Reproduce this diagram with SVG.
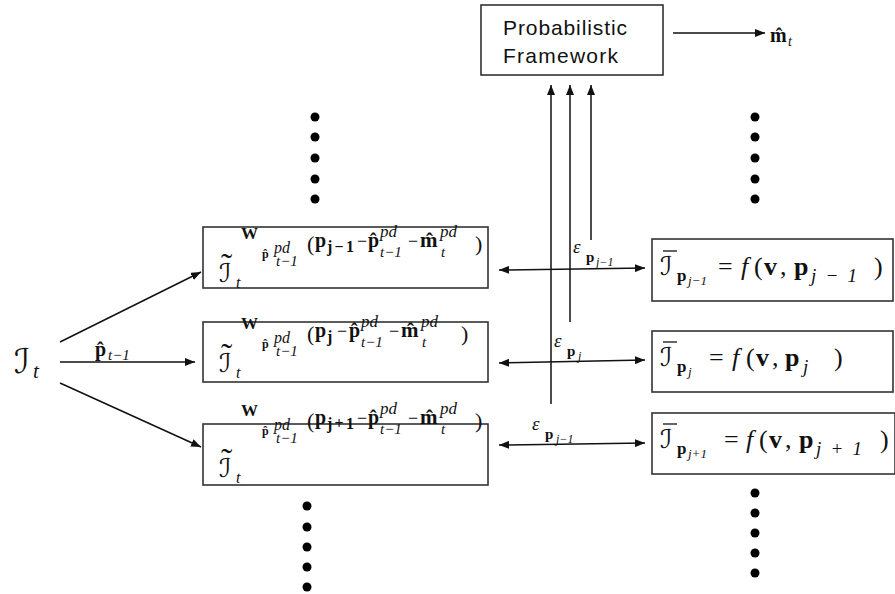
<svg xmlns="http://www.w3.org/2000/svg" width="895" height="594" viewBox="0 0 895 594">
<style>
.box{fill:#fff;stroke:#333;stroke-width:1.6}
.ln{stroke:#111;stroke-width:1.5;fill:none}
.m{font-family:"Liberation Serif","DejaVu Serif",serif;fill:#111}
.i{font-style:italic}
.b{font-weight:bold}
.sc{font-family:"DejaVu Serif","DejaVu Sans",serif;font-style:italic;fill:#111}
.sans{font-family:"Liberation Sans",Arial,sans-serif;fill:#111;font-size:21px}
.dot{fill:#000}
</style>
<defs>
<marker id="ah" viewBox="0 0 10 8" refX="10" refY="4" markerWidth="10" markerHeight="8" markerUnits="userSpaceOnUse" orient="auto-start-reverse">
<path d="M0,0 L10,4 L0,8 z" fill="#111"/>
</marker>
</defs>

<g id="connectors">
<line class="ln" x1="60" y1="342" x2="201" y2="272" marker-end="url(#ah)"/>
<line class="ln" x1="60" y1="362" x2="195" y2="362" marker-end="url(#ah)"/>
<line class="ln" x1="60" y1="383" x2="201" y2="447" marker-end="url(#ah)"/>
<line class="ln" x1="499" y1="270" x2="645" y2="268" marker-start="url(#ah)" marker-end="url(#ah)"/>
<line class="ln" x1="499" y1="363" x2="645" y2="360" marker-start="url(#ah)" marker-end="url(#ah)"/>
<line class="ln" x1="499" y1="445" x2="645" y2="443" marker-start="url(#ah)" marker-end="url(#ah)"/>
<line class="ln" x1="551" y1="404" x2="551" y2="85" marker-end="url(#ah)"/>
<line class="ln" x1="570" y1="322" x2="570" y2="85" marker-end="url(#ah)"/>
<line class="ln" x1="591" y1="240" x2="591" y2="85" marker-end="url(#ah)"/>
<line class="ln" x1="673" y1="33" x2="765" y2="33" marker-end="url(#ah)"/>
<text class="m b" x="95" y="356" font-size="20">p̂</text>
<text class="m i" x="108" y="360" font-size="15">t−1</text>
<text class="m i" x="573" y="253" font-size="19">ε</text>
<text class="m b" x="586" y="262" font-size="15">p</text>
<text class="m i" x="596" y="266" font-size="12">j−1</text>
<text class="m i" x="554" y="347" font-size="19">ε</text>
<text class="m b" x="567" y="356" font-size="15">p</text>
<text class="m i" x="578" y="360" font-size="12">j</text>
<text class="m i" x="532" y="430" font-size="19">ε</text>
<text class="m b" x="545" y="439" font-size="15">p</text>
<text class="m i" x="556" y="443" font-size="12">j−1</text>
</g>

<g id="input">
<text class="sc" x="14" y="373" font-size="34">ℐ</text>
<text class="m i" x="33" y="378" font-size="21">t</text>
</g>

<g id="prob">
<rect class="box" x="481" y="5" width="182" height="70"/>
<text class="sans" x="503" y="35" textLength="124">Probabilistic</text>
<text class="sans" x="503" y="63" textLength="115">Framework</text>
</g>

<g id="output">
<text class="m b" x="770" y="42" font-size="20">m̂</text>
<text class="m i" x="788" y="46" font-size="14">t</text>
</g>

<g id="warp1">
<rect class="box" x="203" y="227" width="285" height="61"/>
<text class="m" x="221" y="277" font-size="34">˜</text>
<text class="sc" x="219" y="282" font-size="26">ℐ</text>
<text class="m i" x="236" y="288" font-size="16">t</text>
<text class="m b" x="241" y="239" font-size="17">W</text>
<text class="m b" x="262" y="258" font-size="12">p̂</text>
<text class="m i" x="274" y="253" font-size="16">pd</text>
<text class="m i" x="276" y="266" font-size="15">t−1</text>
<text class="m" x="307" y="251" font-size="22">(</text>
<text class="m b" x="315" y="247" font-size="20">p</text>
<text class="m b" x="327" y="252" font-size="16" textLength="27">j−1</text>
<text class="m" x="357" y="247" font-size="18">−</text>
<text class="m b" x="368" y="247" font-size="20">p̂</text>
<text class="m i" x="380" y="237" font-size="17">pd</text>
<text class="m i" x="380" y="257" font-size="15">t−1</text>
<text class="m" x="408" y="247" font-size="18">−</text>
<text class="m b" x="420" y="247" font-size="21">m̂</text>
<text class="m i" x="440" y="237" font-size="17">pd</text>
<text class="m i" x="441" y="257" font-size="15">t</text>
<text class="m" x="475" y="251" font-size="22">)</text>
</g>

<g id="warp2">
<rect class="box" x="203" y="322" width="285" height="60"/>
<text class="m" x="221" y="367" font-size="34">˜</text>
<text class="sc" x="219" y="372" font-size="26">ℐ</text>
<text class="m i" x="236" y="378" font-size="16">t</text>
<text class="m b" x="241" y="329" font-size="17">W</text>
<text class="m b" x="262" y="348" font-size="12">p̂</text>
<text class="m i" x="274" y="343" font-size="16">pd</text>
<text class="m i" x="276" y="356" font-size="15">t−1</text>
<text class="m" x="307" y="341" font-size="22">(</text>
<text class="m b" x="315" y="337" font-size="20">p</text>
<text class="m b" x="327" y="342" font-size="16">j</text>
<text class="m" x="337" y="337" font-size="18">−</text>
<text class="m b" x="349" y="337" font-size="20">p̂</text>
<text class="m i" x="361" y="327" font-size="17">pd</text>
<text class="m i" x="361" y="347" font-size="15">t−1</text>
<text class="m" x="389" y="337" font-size="18">−</text>
<text class="m b" x="401" y="337" font-size="21">m̂</text>
<text class="m i" x="421" y="327" font-size="17">pd</text>
<text class="m i" x="422" y="347" font-size="15">t</text>
<text class="m" x="461" y="341" font-size="22">)</text>
</g>

<g id="warp3">
<rect class="box" x="203" y="424" width="285" height="61"/>
<text class="m" x="221" y="472" font-size="34">˜</text>
<text class="sc" x="219" y="477" font-size="26">ℐ</text>
<text class="m i" x="236" y="483" font-size="16">t</text>
<text class="m b" x="241" y="416" font-size="17">W</text>
<text class="m b" x="262" y="435" font-size="12">p̂</text>
<text class="m i" x="274" y="430" font-size="16">pd</text>
<text class="m i" x="276" y="443" font-size="15">t−1</text>
<text class="m" x="307" y="428" font-size="22">(</text>
<text class="m b" x="315" y="424" font-size="20">p</text>
<text class="m b" x="327" y="429" font-size="16" textLength="27">j+1</text>
<text class="m" x="357" y="424" font-size="18">−</text>
<text class="m b" x="368" y="424" font-size="20">p̂</text>
<text class="m i" x="380" y="414" font-size="17">pd</text>
<text class="m i" x="380" y="434" font-size="15">t−1</text>
<text class="m" x="408" y="424" font-size="18">−</text>
<text class="m b" x="420" y="424" font-size="21">m̂</text>
<text class="m i" x="440" y="414" font-size="17">pd</text>
<text class="m i" x="441" y="434" font-size="15">t</text>
<text class="m" x="475" y="428" font-size="22">)</text>
</g>

<g id="ref1">
<rect class="box" x="652" y="239" width="241" height="62"/>
<line x1="663" y1="251" x2="677" y2="251" stroke="#111" stroke-width="1.3"/>
<text class="sc" x="660" y="275" font-size="26">ℐ</text>
<text class="m b" x="677" y="281" font-size="17">p</text>
<text class="m i" x="688" y="285" font-size="13">j−1</text>
<text class="m" x="718" y="275" font-size="26">=</text>
<text class="m i" x="741" y="275" font-size="26">f</text>
<text class="m" x="754" y="275" font-size="26">(</text>
<text class="m b" x="764" y="275" font-size="26">v</text>
<text class="m" x="780" y="275" font-size="26">,</text>
<text class="m b" x="794" y="275" font-size="26">p</text>
<text class="m i" x="811" y="282" font-size="19" textLength="46">j−1</text>
<text class="m" x="874" y="275" font-size="26">)</text>
</g>

<g id="ref2">
<rect class="box" x="652" y="331" width="241" height="61"/>
<line x1="663" y1="342" x2="677" y2="342" stroke="#111" stroke-width="1.3"/>
<text class="sc" x="660" y="366" font-size="26">ℐ</text>
<text class="m b" x="677" y="372" font-size="17">p</text>
<text class="m i" x="688" y="376" font-size="13">j</text>
<text class="m" x="709" y="366" font-size="26">=</text>
<text class="m i" x="732" y="366" font-size="26">f</text>
<text class="m" x="746" y="366" font-size="26">(</text>
<text class="m b" x="756" y="366" font-size="26">v</text>
<text class="m" x="772" y="366" font-size="26">,</text>
<text class="m b" x="785" y="366" font-size="26">p</text>
<text class="m i" x="803" y="373" font-size="19">j</text>
<text class="m" x="834" y="366" font-size="26">)</text>
</g>

<g id="ref3">
<rect class="box" x="652" y="413" width="243" height="61"/>
<line x1="663" y1="424" x2="677" y2="424" stroke="#111" stroke-width="1.3"/>
<text class="sc" x="660" y="448" font-size="26">ℐ</text>
<text class="m b" x="677" y="454" font-size="17">p</text>
<text class="m i" x="688" y="458" font-size="13">j+1</text>
<text class="m" x="724" y="448" font-size="26">=</text>
<text class="m i" x="746" y="448" font-size="26">f</text>
<text class="m" x="759" y="448" font-size="26">(</text>
<text class="m b" x="769" y="448" font-size="26">v</text>
<text class="m" x="785" y="448" font-size="26">,</text>
<text class="m b" x="799" y="448" font-size="26">p</text>
<text class="m i" x="816" y="455" font-size="19" textLength="46">j+1</text>
<text class="m" x="880" y="448" font-size="26">)</text>
</g>

<g id="dots">
<circle class="dot" cx="315" cy="117" r="4.5"/>
<circle class="dot" cx="315" cy="137" r="4.5"/>
<circle class="dot" cx="315" cy="158" r="4.5"/>
<circle class="dot" cx="315" cy="179" r="4.5"/>
<circle class="dot" cx="315" cy="199" r="4.5"/>
<circle class="dot" cx="755" cy="117" r="4.5"/>
<circle class="dot" cx="755" cy="137" r="4.5"/>
<circle class="dot" cx="755" cy="158" r="4.5"/>
<circle class="dot" cx="755" cy="179" r="4.5"/>
<circle class="dot" cx="755" cy="199" r="4.5"/>
<circle class="dot" cx="307" cy="506" r="4.5"/>
<circle class="dot" cx="307" cy="527" r="4.5"/>
<circle class="dot" cx="307" cy="547" r="4.5"/>
<circle class="dot" cx="307" cy="567" r="4.5"/>
<circle class="dot" cx="307" cy="587" r="4.5"/>
<circle class="dot" cx="755" cy="493" r="4.5"/>
<circle class="dot" cx="755" cy="513" r="4.5"/>
<circle class="dot" cx="755" cy="533" r="4.5"/>
<circle class="dot" cx="755" cy="553" r="4.5"/>
<circle class="dot" cx="755" cy="573" r="4.5"/>
</g>
</svg>
